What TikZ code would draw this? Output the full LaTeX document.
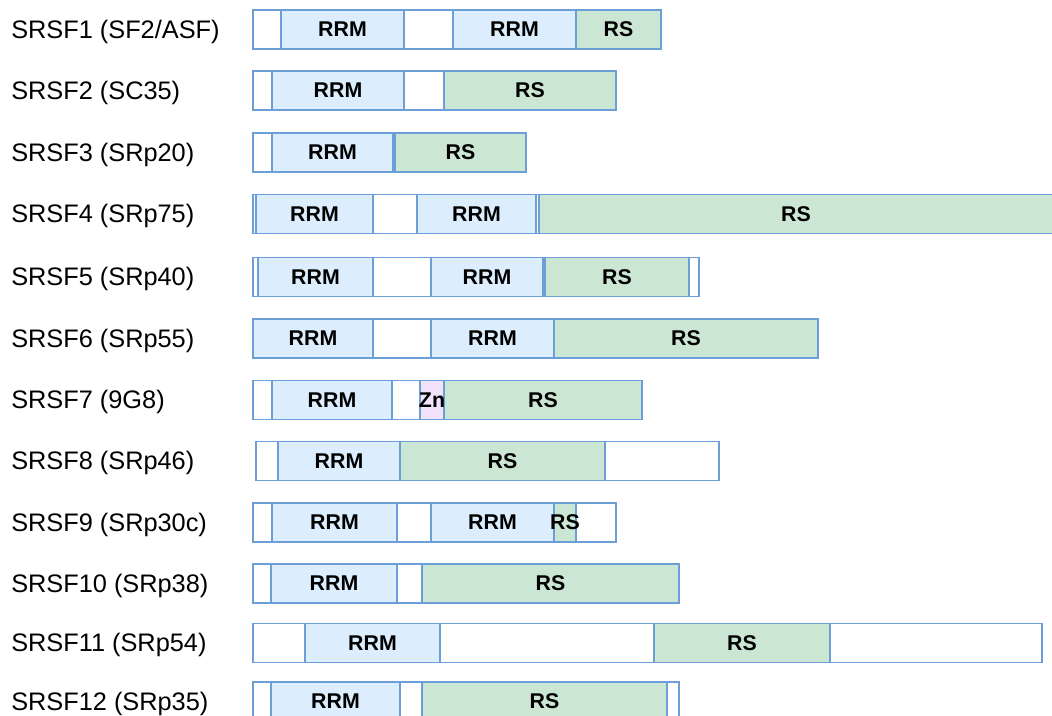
\documentclass[tikz,border=0pt]{standalone}
\usepackage{fontspec}
\setmainfont{Liberation Sans}
\definecolor{edge}{HTML}{6C9ED8}
\definecolor{rrmfill}{HTML}{DCEEFD}
\definecolor{rsfill}{HTML}{CCE6D4}
\definecolor{znfill}{HTML}{F1E3FB}
\pgfdeclarelayer{text}
\pgfsetlayers{main,text}
\tikzset{
  seg/.style={draw=edge, line width=1.4pt, inner sep=0pt, outer sep=0pt,
    minimum height=29.25pt, anchor=west},
  gap/.style={seg, fill=white},
  rrm/.style={seg, fill=rrmfill},
  rs/.style={seg, fill=rsfill},
  zn/.style={seg, fill=znfill},
  domain text/.style={inner sep=0pt, font=\fontsize{16}{19}\selectfont\bfseries},
  name label/.style={anchor=base west, inner sep=0pt,
    font=\fontsize{19}{22}\selectfont}
}
% \dom{name}{y centre}{x left}{x right}{style}{text}  (pixel units)
% The box is drawn first; its text goes on a layer above all boxes,
% so a text wider than its box is not hidden by the next box.
\newcommand\dom[6]{%
  \pgfmathsetmacro\domw{(#4-#3)*0.75}%
  \node[#5, minimum width=\domw pt] (#1) at (#3,#2) {};
  \begin{pgfonlayer}{text}
    \node[domain text] (#1t) at (#1.center) {#6};
  \end{pgfonlayer}}
% \protlabel{name}{y centre}{text}
\newcommand\protlabel[3]{%
  \node[name label] (#1) at (11,#2+8.5) {#3};}
\begin{document}
\begin{tikzpicture}[x=0.75pt,y=-0.75pt]
\useasboundingbox (0,0) rectangle (1052,715);
\fill[white] (0,0) rectangle (1052,715);

% SRSF1
\protlabel{l1}{29.5}{SRSF1 (SF2/ASF)}
\dom{r1a}{29.5}{253}{281}{gap}{}
\dom{r1b}{29.5}{281}{404}{rrm}{RRM}
\dom{r1c}{29.5}{404}{453}{gap}{}
\dom{r1d}{29.5}{453}{576}{rrm}{RRM}
\dom{r1e}{29.5}{576}{661}{rs}{RS}

% SRSF2
\protlabel{l2}{90.5}{SRSF2 (SC35)}
\dom{r2a}{90.5}{253}{272}{gap}{}
\dom{r2b}{90.5}{272}{404}{rrm}{RRM}
\dom{r2c}{90.5}{404}{444}{gap}{}
\dom{r2d}{90.5}{444}{616}{rs}{RS}

% SRSF3
\protlabel{l3}{152.5}{SRSF3 (SRp20)}
\dom{r3a}{152.5}{253}{272}{gap}{}
\dom{r3b}{152.5}{272}{393}{rrm}{RRM}
\dom{r3c}{152.5}{393}{395}{gap}{}
\dom{r3d}{152.5}{395}{526}{rs}{RS}

% SRSF4
\protlabel{l4}{214}{SRSF4 (SRp75)}
\dom{r4a}{214}{253}{256}{gap}{}
\dom{r4b}{214}{256}{373}{rrm}{RRM}
\dom{r4c}{214}{373}{417}{gap}{}
\dom{r4d}{214}{417}{536}{rrm}{RRM}
\dom{r4e}{214}{536}{539}{gap}{}
\dom{r4f}{214}{539}{1053}{rs}{RS}

% SRSF5
\protlabel{l5}{277}{SRSF5 (SRp40)}
\dom{r5a}{277}{253}{258}{gap}{}
\dom{r5b}{277}{258}{373}{rrm}{RRM}
\dom{r5c}{277}{373}{431}{gap}{}
\dom{r5d}{277}{431}{543}{rrm}{RRM}
\dom{r5e}{277}{543}{545}{gap}{}
\dom{r5f}{277}{545}{689}{rs}{RS}
\dom{r5g}{277}{689}{699}{gap}{}

% SRSF6
\protlabel{l6}{338.5}{SRSF6 (SRp55)}
\dom{r6a}{338.5}{253}{373}{rrm}{RRM}
\dom{r6b}{338.5}{373}{431}{gap}{}
\dom{r6c}{338.5}{431}{554}{rrm}{RRM}
\dom{r6d}{338.5}{554}{818}{rs}{RS}

% SRSF7
\protlabel{l7}{400}{SRSF7 (9G8)}
\dom{r7a}{400}{253}{272}{gap}{}
\dom{r7b}{400}{272}{392}{rrm}{RRM}
\dom{r7c}{400}{392}{420}{gap}{}
\dom{r7d}{400}{420}{444}{zn}{Zn}
\dom{r7e}{400}{444}{642}{rs}{RS}

% SRSF8
\protlabel{l8}{461}{SRSF8 (SRp46)}
\dom{r8a}{461}{256}{278}{gap}{}
\dom{r8b}{461}{278}{400}{rrm}{RRM}
\dom{r8c}{461}{400}{605}{rs}{RS}
\dom{r8d}{461}{605}{719}{gap}{}

% SRSF9
\protlabel{l9}{522.5}{SRSF9 (SRp30c)}
\dom{r9a}{522.5}{253}{272}{gap}{}
\dom{r9b}{522.5}{272}{397}{rrm}{RRM}
\dom{r9c}{522.5}{397}{431}{gap}{}
\dom{r9d}{522.5}{431}{554}{rrm}{RRM}
\dom{r9e}{522.5}{554}{576}{rs}{RS}
\dom{r9f}{522.5}{576}{616}{gap}{}

% SRSF10
\protlabel{l10}{583.5}{SRSF10 (SRp38)}
\dom{r10a}{583.5}{253}{271}{gap}{}
\dom{r10b}{583.5}{271}{397}{rrm}{RRM}
\dom{r10c}{583.5}{397}{422}{gap}{}
\dom{r10d}{583.5}{422}{679}{rs}{RS}

% SRSF11
\protlabel{l11}{643}{SRSF11 (SRp54)}
\dom{r11a}{643}{253}{305}{gap}{}
\dom{r11b}{643}{305}{440}{rrm}{RRM}
\dom{r11c}{643}{440}{654}{gap}{}
\dom{r11d}{643}{654}{830}{rs}{RS}
\dom{r11e}{643}{830}{1042}{gap}{}

% SRSF12
\protlabel{l12}{701.5}{SRSF12 (SRp35)}
\dom{r12a}{701.5}{253}{271}{gap}{}
\dom{r12b}{701.5}{271}{400}{rrm}{RRM}
\dom{r12c}{701.5}{400}{422}{gap}{}
\dom{r12d}{701.5}{422}{667}{rs}{RS}
\dom{r12e}{701.5}{667}{679}{gap}{}
\end{tikzpicture}
\end{document}
